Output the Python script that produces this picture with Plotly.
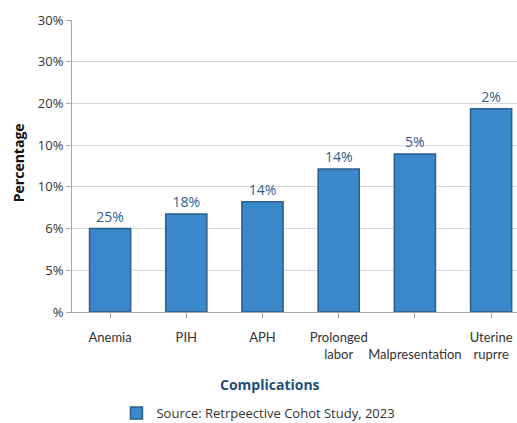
import plotly.graph_objects as go

categories = ["Anemia", "PIH", "APH", "Prolonged<br>labor", " <br>Malpresentation", "Uterine<br>ruprre"]
bar_heights = [2.0, 2.35, 2.64, 3.43, 3.79, 4.87]
bar_labels = ["25%", "18%", "14%", "14%", "5%", "2%"]
y_tickvals = [0, 1, 2, 3, 4, 5, 6, 7]
y_ticktext = ["%", "5%", "6%", "10%", "10%", "20%", "30%", "30%"]
legend_name = "Source: Retrpeective Cohot Study, 2023"

FONT = "Open Sans"
XFONT = "Lato"

fig = go.Figure()
fig.add_trace(go.Bar(
    x=list(range(len(categories))),
    y=bar_heights,
    text=bar_labels,
    textposition="outside",
    textfont=dict(family=FONT, size=14, color="#2E5E8C"),
    cliponaxis=False,
    marker=dict(color="#3A87C9", line=dict(color="#2A5F8E", width=1.5)),
    width=0.54,
    name=legend_name,
    showlegend=True,
))

fig.update_layout(
    width=517, height=423,
    margin=dict(l=72, r=0, t=20, b=111, autoexpand=False),
    plot_bgcolor="white", paper_bgcolor="white",
    font=dict(family=FONT, size=12, color="#333333"),
    bargap=0.3,
    xaxis=dict(
        tickmode="array",
        tickvals=list(range(len(categories))),
        ticktext=categories,
        tickangle=0,
        range=[-0.5, 5.34],
        showgrid=False,
        showline=True, linecolor="#A6A6A6", linewidth=1,
        ticks="outside", ticklen=5, tickcolor="#A6A6A6",
        tickson="boundaries",
        ticklabelstandoff=8,
        tickfont=dict(family=XFONT, size=13, color="#333333"),
        zeroline=False,
        automargin=False,
    ),
    yaxis=dict(
        range=[0, 7],
        tickmode="array",
        tickvals=y_tickvals,
        ticktext=y_ticktext,
        showgrid=True, gridcolor="#D9D9D9", gridwidth=1,
        showline=True, linecolor="#A6A6A6", linewidth=1,
        ticks="outside", ticklen=5, tickcolor="#A6A6A6",
        tickfont=dict(family=FONT, size=13, color="#333333"),
        zeroline=False,
        automargin=False,
    ),
    legend=dict(
        orientation="h",
        x=0.419, xanchor="center",
        y=-0.346, yanchor="middle",
        font=dict(family=FONT, size=13, color="#333333"),
        itemwidth=30,
    ),
    annotations=[
        dict(text="<b>Complications</b>", x=0.445, y=-0.248, xref="paper", yref="paper",
             xanchor="center", yanchor="middle", showarrow=False,
             font=dict(family=FONT, size=14, color="#1F4E79")),
        dict(text="<b>Percentage</b>", x=-0.121, y=0.51, xref="paper", yref="paper",
             xanchor="center", yanchor="middle", showarrow=False, textangle=-90,
             font=dict(family=FONT, size=14, color="#111111")),
    ],
)

fig.write_html("out.html")
